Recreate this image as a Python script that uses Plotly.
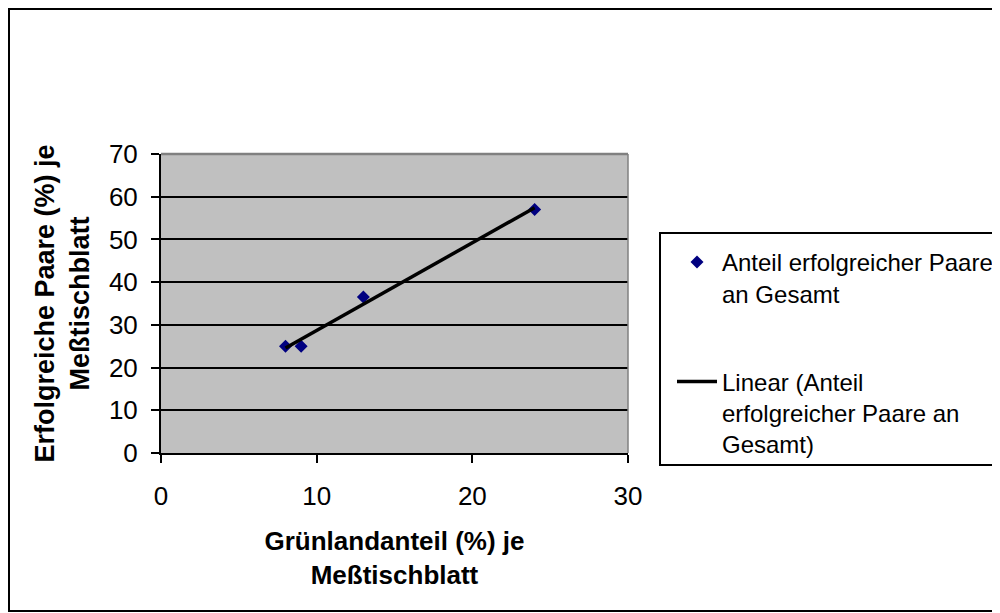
import numpy as np
import plotly.graph_objects as go

# Data
gruenland = [8, 9, 13, 24]          # Grünlandanteil (%) je Meßtischblatt
erfolg = [25, 25, 36.5, 57]         # Erfolgreiche Paare (%) je Meßtischblatt
x_ticks = [0, 10, 20, 30]
y_ticks = [0, 10, 20, 30, 40, 50, 60, 70]

series_name = "Anteil erfolgreicher Paare<br>an Gesamt"
trend_name = "Linear (Anteil<br>erfolgreicher Paare an<br>Gesamt)"

# linear trendline (least squares) over the data range
slope, intercept = np.polyfit(gruenland, erfolg, 1)
trend_x = [min(gruenland), max(gruenland)]
trend_y = [slope * v + intercept for v in trend_x]

FONT = "Liberation Sans, Arial, sans-serif"

fig = go.Figure()
fig.add_trace(go.Scatter(
    x=gruenland, y=erfolg, mode="markers", name=series_name,
    marker=dict(symbol="diamond", size=10, color="#000080"),
    legendgroup="a",
))
fig.add_trace(go.Scatter(
    x=trend_x, y=trend_y, mode="lines", name=trend_name,
    line=dict(color="black", width=3.5),
    legendgroup="b",
))

OFF = 8  # page body margin
L, R, T, B = 153, 380, 146, 168
W, H = 1000, 613
pw, ph = W - L - R, H - T - B

def px(xp):
    return (xp - OFF - L) / pw

def py(yp):
    return (H - B - (yp - OFF)) / ph

shapes = [
    # outer chart border
    dict(type="rect", xref="paper", yref="paper",
         x0=px(9), x1=px(1015), y0=py(611), y1=py(9),
         line=dict(color="black", width=2), layer="above"),
    # legend box
    dict(type="rect", xref="paper", yref="paper",
         x0=px(660), x1=px(999), y0=py(465), y1=py(233),
         line=dict(color="black", width=2), layer="above"),
    # plot area top and right edges (gray)
    dict(type="line", xref="paper", yref="paper", x0=0, x1=1, y0=1, y1=1,
         line=dict(color="#808080", width=2.5), layer="above"),
    dict(type="line", xref="paper", yref="paper", x0=1, x1=1, y0=0, y1=1,
         line=dict(color="#808080", width=1.5), layer="above"),
]

fig.update_layout(
    width=W, height=H,
    margin=dict(l=L, r=R, t=T, b=B, autoexpand=False),
    paper_bgcolor="white",
    plot_bgcolor="#C0C0C0",
    font=dict(family=FONT, color="black"),
    showlegend=True,
    legend=dict(
        x=px(672), y=py(240), xanchor="left", yanchor="top",
        font=dict(family=FONT, size=24, color="black"),
        bgcolor="rgba(0,0,0,0)", borderwidth=0,
        tracegroupgap=54, itemwidth=40, valign="top",
    ),
    shapes=shapes,
)

fig.update_xaxes(
    range=[0, 30], tickvals=x_ticks, ticktext=[str(v) for v in x_ticks],
    showgrid=False, zeroline=False,
    showline=True, linecolor="black", linewidth=2,
    ticks="outside", ticklen=8, tickwidth=2, tickcolor="black",
    tickfont=dict(family=FONT, size=26, color="black"),
    ticklabelstandoff=11,
    title=dict(text="<b>Grünlandanteil (%) je<br>Meßtischblatt</b>",
               font=dict(family=FONT, size=26, color="black"), standoff=22),
)
fig.update_yaxes(
    range=[0, 70], tickvals=y_ticks, ticktext=[str(v) for v in y_ticks],
    showgrid=True, gridcolor="black", gridwidth=2,
    zeroline=False,
    showline=True, linecolor="black", linewidth=2,
    ticks="outside", ticklen=8, tickwidth=2, tickcolor="black",
    tickfont=dict(family=FONT, size=26, color="black"),
    ticklabelstandoff=8,
    title=dict(text="<b>Erfolgreiche Paare (%) je<br>Meßtischblatt</b>",
               font=dict(family=FONT, size=27, color="black"), standoff=11),
)

fig.write_html("out.html")
